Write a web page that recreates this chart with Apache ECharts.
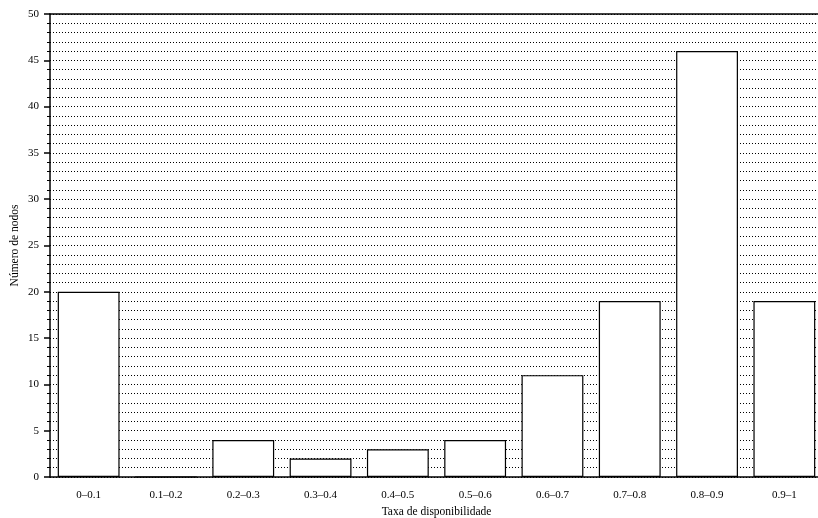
<!DOCTYPE html>
<html><head><meta charset="utf-8">
<script src="https://cdn.jsdelivr.net/npm/echarts@6/dist/echarts.min.js"></script>
<style>html,body{margin:0;padding:0;background:#fff}#c{width:818px;height:518px}</style>
</head><body><div id="c"></div>
<script>
const categories = ["0–0.1","0.1–0.2","0.2–0.3","0.3–0.4","0.4–0.5","0.5–0.6","0.6–0.7","0.7–0.8","0.8–0.9","0.9–1"];
const counts = [20, 0, 4, 2, 3, 4, 11, 19, 46, 19];
const yTicks = [0, 5, 10, 15, 20, 25, 30, 35, 40, 45, 50];
const xTitle = "Taxa de disponibilidade";
const yTitle = "Número de nodos";

const font = "'Liberation Serif','DejaVu Serif',serif";
const chart = echarts.init(document.getElementById('c'));
chart.setOption({
  animation: false,
  grid: { left: 50, top: 14, width: 773, height: 463, containLabel: false, outerBoundsMode: 'none' },
  xAxis: [{
    type: 'category', data: categories, position: 'bottom',
    name: xTitle, nameLocation: 'middle', nameGap: 29,
    nameTextStyle: { fontFamily: font, fontSize: 11.5, color: '#000' },
    axisLine: { lineStyle: { color: '#000', width: 1.5 } },
    axisTick: { alignWithLabel: true, length: 6, lineStyle: { color: '#000', width: 1.5 } },
    axisLabel: { fontFamily: font, fontSize: 11, color: '#000', margin: 13 },
    splitLine: { show: false }
  }, {
    type: 'category', data: categories, position: 'top',
    axisLine: { lineStyle: { color: '#000', width: 1.5 } },
    axisTick: { alignWithLabel: true, length: 6, lineStyle: { color: '#000', width: 1.5 } },
    axisLabel: { show: false },
    splitLine: { show: false }
  }],
  yAxis: {
    type: 'value', min: 0, max: 50, interval: 5,
    name: yTitle, nameLocation: 'middle', nameGap: 29, nameRotate: 90, nameMoveOverlap: false,
    nameTextStyle: { fontFamily: font, fontSize: 11.5, color: '#000' },
    axisLine: { show: true, lineStyle: { color: '#000', width: 1.5 } },
    axisTick: { show: true, length: 6, lineStyle: { color: '#000', width: 1.5 } },
    minorTick: { show: true, splitNumber: 5, length: 3, lineStyle: { color: '#000', width: 1 } },
    axisLabel: { fontFamily: font, fontSize: 11, color: '#000', margin: 11,
      formatter: v => yTicks.includes(v) ? String(v) : '' },
    splitLine: { show: true, lineStyle: { color: '#000', width: 1, type: [1, 2] } },
    minorSplitLine: { show: true, lineStyle: { color: '#000', width: 1, type: [1, 2] } }
  },
  series: [{
    type: 'bar', data: counts, xAxisIndex: 0,
    barCategoryGap: '20%',
    itemStyle: { color: '#fff', borderColor: '#000', borderWidth: 1.2 },
    z: 3
  }]
});
</script>
</body></html>
